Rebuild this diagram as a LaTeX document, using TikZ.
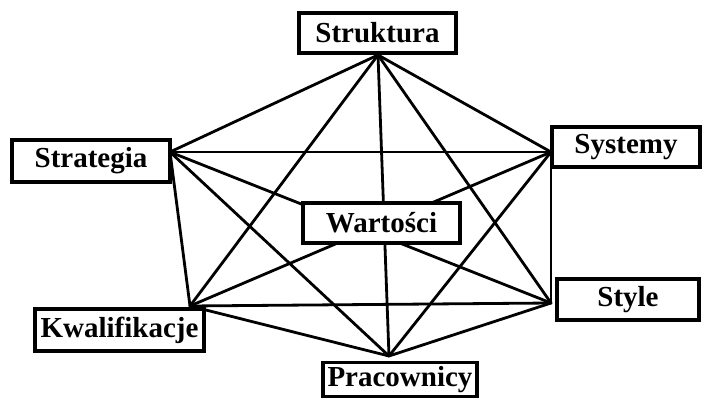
\documentclass[tikz,border=0pt]{standalone}
\usepackage{fontspec}
\setmainfont{Liberation Serif}
\begin{document}
\begin{tikzpicture}[x=1pt,y=-1pt,
  box/.style={draw=black,line width=3.2pt,fill=white,inner sep=0pt,
    font=\fontsize{29}{31}\selectfont\bfseries,anchor=center},
  link/.style={draw=black,line width=2.8pt,line cap=round}]
\useasboundingbox (0,0) rectangle (702,398);
% attachment points
\coordinate (aStruktura) at (378,55);
\coordinate (aStrategia) at (170,152);
\coordinate (aSystemy) at (551,152);
\coordinate (aKwal) at (190,306);
\coordinate (aStyle) at (551,303);
\coordinate (aPrac) at (389,356);
% connectors (complete graph)
\foreach \a/\b in {aStruktura/aStrategia,aStruktura/aSystemy,aStruktura/aKwal,aStruktura/aStyle,aStruktura/aPrac,
  aStrategia/aSystemy,aStrategia/aKwal,aStrategia/aStyle,aStrategia/aPrac,
  aSystemy/aKwal,aSystemy/aStyle,aSystemy/aPrac,
  aKwal/aStyle,aKwal/aPrac,aStyle/aPrac}
  \draw[link] (\a) -- (\b);
% boxes
\node[box,minimum width=157pt,minimum height=40pt] (struktura) at (377.5,33) {Struktura};
\node[box,minimum width=158pt,minimum height=42pt] (strategia) at (91,161) {Strategia};
\node[box,minimum width=148pt,minimum height=40pt] (systemy) at (626,147) {Systemy};
\node[box,minimum width=157pt,minimum height=40pt] (wartosci) at (381.5,223) {Wartości};
\node[box,minimum width=169pt,minimum height=42pt] (kwal) at (119.5,330) {Kwalifikacje};
\node[box,minimum width=142pt,minimum height=41pt] (style) at (628,299.5) {Style};
\node[box,minimum width=154pt,minimum height=34pt] (prac) at (400,379.5) {Pracownicy};
\end{tikzpicture}
\end{document}
